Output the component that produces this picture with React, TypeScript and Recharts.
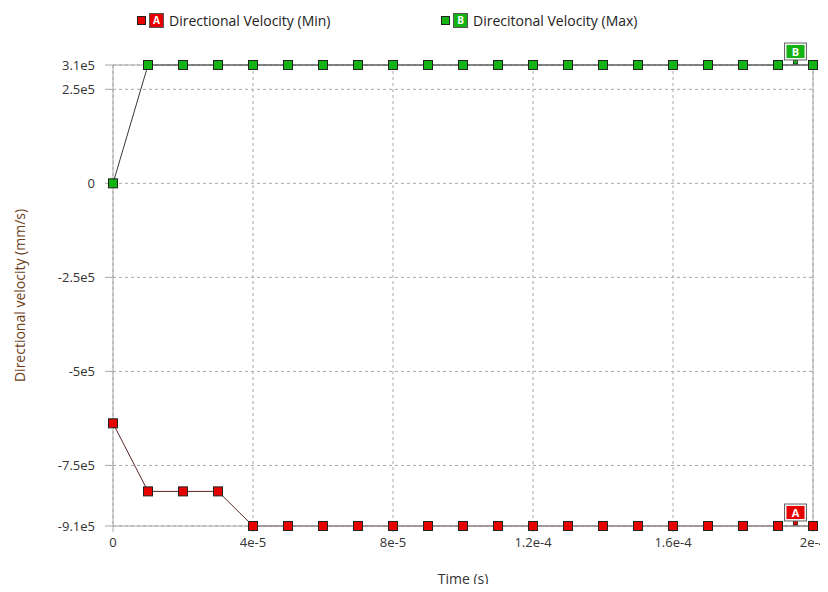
import { CartesianGrid, Line, LineChart, ReferenceDot, ReferenceLine, XAxis, YAxis } from "recharts";

const TIME = [
  0, 1e-5, 2e-5, 3e-5, 4e-5, 5e-5, 6e-5, 7e-5, 8e-5, 9e-5, 1e-4,
  1.1e-4, 1.2e-4, 1.3e-4, 1.4e-4, 1.5e-4, 1.6e-4, 1.7e-4, 1.8e-4, 1.9e-4, 2e-4,
];
const MIN_VELOCITY = [
  -6.38e5, -8.19e5, -8.19e5, -8.19e5, -9.11e5, -9.11e5, -9.11e5, -9.11e5, -9.11e5, -9.11e5, -9.11e5,
  -9.11e5, -9.11e5, -9.11e5, -9.11e5, -9.11e5, -9.11e5, -9.11e5, -9.11e5, -9.11e5, -9.11e5,
];
const MAX_VELOCITY = [
  0, 3.146e5, 3.146e5, 3.146e5, 3.146e5, 3.146e5, 3.146e5, 3.146e5, 3.146e5, 3.146e5, 3.146e5,
  3.146e5, 3.146e5, 3.146e5, 3.146e5, 3.146e5, 3.146e5, 3.146e5, 3.146e5, 3.146e5, 3.146e5,
];
const X_TICKS = [0, 4e-5, 8e-5, 1.2e-4, 1.6e-4, 2e-4];
const Y_TICKS = [-9.11e5, -7.5e5, -5e5, -2.5e5, 0, 2.5e5, 3.146e5];
const SERIES = [
  { key: "min", name: "Directional Velocity (Min)", tag: "A", fill: "#e60000", line: "#5a2626" },
  { key: "max", name: "Direcitonal Velocity (Max)", tag: "B", fill: "#12b312", line: "#383838" },
];
const TAG_X = 1.95e-4;

const data = TIME.map((t, i) => ({ t, min: MIN_VELOCITY[i], max: MAX_VELOCITY[i] }));

const FONT = "'Open Sans', 'Noto Sans', sans-serif";
const GRID = "#a8a8a8";
const TICK_STYLE = { fontSize: 13, fill: "#333", fontFamily: FONT };

// two significant digits, like the source plot: 3.146e5 -> "3.1e5", -5e5 -> "-5e5"
const fmt = (v: number) => (v === 0 ? "0" : v.toExponential(1).replace(".0e", "e").replace("e+", "e"));

function squareDot(fill: string) {
  return (p: any) => (
    <rect key={`d-${p.index}`} x={p.cx - 4.5} y={p.cy - 4.5} width={9} height={9} fill={fill} stroke="#222" strokeWidth={1} />
  );
}

function tagShape(tag: string, fill: string) {
  return (p: any) => (
    <g>
      <rect x={p.cx - 2} y={p.cy - 5} width={4} height={4} fill={fill} stroke="#222" strokeWidth={0.8} />
      <rect x={p.cx - 11} y={p.cy - 22} width={22} height={17} fill="#f4f4f4" stroke="#666" strokeWidth={1} />
      <rect x={p.cx - 9} y={p.cy - 20} width={18} height={13} fill={fill} />
      <text x={p.cx} y={p.cy - 9.5} textAnchor="middle" fontSize={11} fontWeight="bold" fill="#fff" fontFamily={FONT}>
        {tag}
      </text>
    </g>
  );
}

function ChartLegend() {
  return (
    <div style={{ position: "absolute", left: 0, top: 11, width: 828, height: 20, fontFamily: FONT, fontSize: 14, color: "#222" }}>
      {SERIES.map((s, i) => (
        <div key={s.key} style={{ position: "absolute", left: i === 0 ? 137 : 441, top: 0, display: "flex", alignItems: "center", whiteSpace: "nowrap" }}>
          <span style={{ width: 7, height: 7, background: s.fill, border: "1px solid #222", display: "inline-block" }} />
          <span
            style={{
              marginLeft: 3,
              width: 13,
              height: 13,
              background: s.fill,
              border: "1px solid #555",
              color: "#fff",
              fontSize: 10,
              fontWeight: "bold",
              lineHeight: "13px",
              textAlign: "center",
              display: "inline-block",
            }}
          >
            {s.tag}
          </span>
          <span style={{ marginLeft: 5 }}>{s.name}</span>
        </div>
      ))}
    </div>
  );
}

export default function App() {
  return (
    <div style={{ position: "relative", margin: -8, width: 828, height: 592, background: "#fff", overflow: "hidden" }}>
      <ChartLegend />
      <LineChart width={850} height={592} data={data} margin={{ top: 65, right: 37, bottom: 16, left: 0 }}>
        <CartesianGrid stroke={GRID} strokeDasharray="3 3" />
        <XAxis
          dataKey="t"
          type="number"
          domain={[0, 2e-4]}
          ticks={X_TICKS}
          tickFormatter={fmt}
          tick={TICK_STYLE}
          stroke={GRID}
          tickSize={6}
          tickMargin={6}
          height={50}
          label={{ value: "Time (s)", position: "insideBottom", offset: -8, style: { fontSize: 14, fill: "#333", fontFamily: FONT } }}
        />
        <YAxis
          type="number"
          domain={[-9.11e5, 3.146e5]}
          ticks={Y_TICKS}
          tickFormatter={fmt}
          tick={TICK_STYLE}
          stroke={GRID}
          tickSize={8}
          tickMargin={10}
          width={113}
          interval={0}
          label={{
            value: "Directional velocity (mm/s)",
            angle: -90,
            position: "insideLeft",
            offset: 20,
            style: { textAnchor: "middle", fontSize: 14, fill: "#6b3e1a", fontFamily: FONT },
          }}
        />
        <ReferenceLine y={3.146e5} stroke={GRID} />
        <ReferenceLine x={2e-4} stroke={GRID} />
        {SERIES.map((s) => (
          <Line
            key={s.key}
            dataKey={s.key}
            name={s.name}
            stroke={s.line}
            strokeWidth={1}
            dot={squareDot(s.fill)}
            activeDot={false}
            isAnimationActive={false}
          />
        ))}
        <ReferenceDot x={TAG_X} y={MIN_VELOCITY[MIN_VELOCITY.length - 1]} shape={tagShape("A", SERIES[0].fill)} />
        <ReferenceDot x={TAG_X} y={MAX_VELOCITY[MAX_VELOCITY.length - 1]} shape={tagShape("B", SERIES[1].fill)} />
      </LineChart>
    </div>
  );
}
